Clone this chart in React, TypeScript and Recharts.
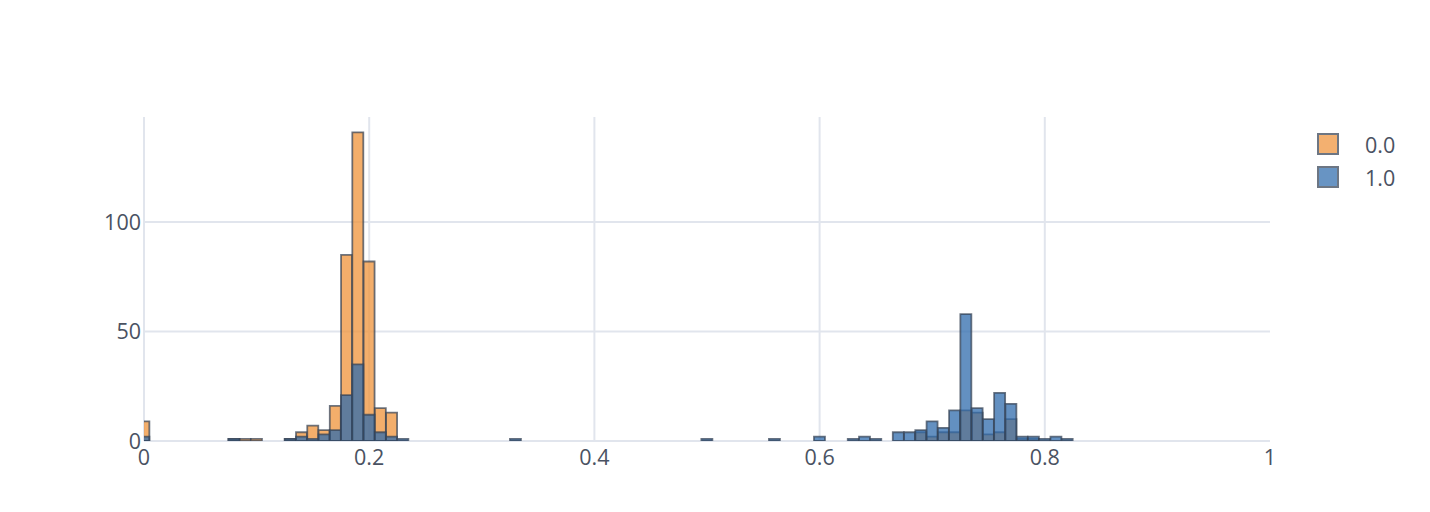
import React from 'react';
import { BarChart, Bar, XAxis, YAxis, CartesianGrid, Legend } from 'recharts';

// Histogram bin centres (bin width 0.01)
const binCenters: number[] = [
  0, 0.01, 0.02, 0.03, 0.04, 0.05, 0.06, 0.07, 0.08, 0.09,
  0.1, 0.11, 0.12, 0.13, 0.14, 0.15, 0.16, 0.17, 0.18, 0.19,
  0.2, 0.21, 0.22, 0.23, 0.24, 0.25, 0.26, 0.27, 0.28, 0.29,
  0.3, 0.31, 0.32, 0.33, 0.34, 0.35, 0.36, 0.37, 0.38, 0.39,
  0.4, 0.41, 0.42, 0.43, 0.44, 0.45, 0.46, 0.47, 0.48, 0.49,
  0.5, 0.51, 0.52, 0.53, 0.54, 0.55, 0.56, 0.57, 0.58, 0.59,
  0.6, 0.61, 0.62, 0.63, 0.64, 0.65, 0.66, 0.67, 0.68, 0.69,
  0.7, 0.71, 0.72, 0.73, 0.74, 0.75, 0.76, 0.77, 0.78, 0.79,
  0.8, 0.81, 0.82,
];

// Series "0.0" counts
const counts0: number[] = [
  9, 0, 0, 0, 0, 0, 0, 0, 1, 1,
  1, 0, 0, 1, 4, 7, 5, 16, 85, 141,
  82, 15, 13, 0, 0, 0, 0, 0, 0, 0,
  0, 0, 0, 0, 0, 0, 0, 0, 0, 0,
  0, 0, 0, 0, 0, 0, 0, 0, 0, 0,
  0, 0, 0, 0, 0, 0, 0, 0, 0, 0,
  0, 0, 0, 0, 0, 0, 0, 0, 0, 4,
  2, 4, 4, 14, 13, 3, 4, 10, 1, 1,
  0, 0, 0,
];

// Series "1.0" counts
const counts1: number[] = [
  2, 0, 0, 0, 0, 0, 0, 0, 1, 0,
  0, 0, 0, 1, 2, 1, 3, 5, 21, 35,
  12, 4, 2, 1, 0, 0, 0, 0, 0, 0,
  0, 0, 0, 1, 0, 0, 0, 0, 0, 0,
  0, 0, 0, 0, 0, 0, 0, 0, 0, 0,
  1, 0, 0, 0, 0, 0, 1, 0, 0, 0,
  2, 0, 0, 1, 2, 1, 0, 4, 4, 5,
  9, 6, 14, 58, 15, 10, 22, 17, 2, 2,
  1, 2, 1,
];

const seriesNames: string[] = ['0.0', '1.0'];
const xTicks: number[] = [0, 0.2, 0.4, 0.6, 0.8, 1];
const yTicks: number[] = [0, 50, 100];
const xGridValues: number[] = [0, 0.2, 0.4, 0.6, 0.8];

const ORANGE = '#EF933A';
const BLUE = '#2F6BAC';
const OUTLINE = '#364254';
const TEXT = '#4a5262';
const GRID = '#E1E5ED';
const FONT = '"Open Sans", sans-serif';
const FS = 21.5;

const data = binCenters.map((x, i) => ({ x, a: counts0[i], b: counts1[i] }));

const renderLegend = (props: any) => {
  const payload = (props.payload || []).slice().sort((p: any, q: any) =>
    String(p.value).localeCompare(String(q.value))
  );
  return (
    <div style={{ fontFamily: FONT, fontSize: FS, color: TEXT }}>
      {payload.map((entry: any) => (
        <div key={entry.value} style={{ display: 'flex', alignItems: 'center', height: 33 }}>
          <div
            style={{
              width: 18,
              height: 18,
              marginLeft: 7,
              backgroundColor: entry.color,
              border: `2px solid ${OUTLINE}`,
              opacity: 0.72,
              boxSizing: 'content-box',
            }}
          />
          <span style={{ marginLeft: 26, lineHeight: '33px' }}>{entry.value}</span>
        </div>
      ))}
    </div>
  );
};

export default function App() {
  return (
    <div style={{ position: 'absolute', left: 0, top: 0, width: 1430, height: 512, background: '#fff' }}>
      <BarChart
        width={1430}
        height={512}
        data={data}
        margin={{ top: 117, right: 160, bottom: 41, left: 84 }}
        barCategoryGap={0}
        barGap={0}
      >
        <CartesianGrid
          xAxisId="a"
          stroke={GRID}
          strokeWidth={2}
          horizontalValues={yTicks}
          verticalValues={xGridValues}
        />
        <XAxis
          xAxisId="a"
          dataKey="x"
          type="number"
          domain={[0, 1]}
          ticks={xTicks}
          interval={0}
          allowDataOverflow
          axisLine={false}
          tickLine={false}
          tickSize={0}
          tickMargin={9}
          height={30}
          tick={{ fontSize: FS, fill: TEXT, fontFamily: FONT }}
        />
        <XAxis xAxisId="b" dataKey="x" type="number" domain={[0, 1]} allowDataOverflow hide />
        <YAxis
          domain={[0, 148]}
          ticks={yTicks}
          allowDataOverflow
          axisLine={false}
          tickLine={false}
          tickSize={0}
          tickMargin={3}
          width={60}
          tick={{ fontSize: FS, fill: TEXT, fontFamily: FONT }}
        />
        <Legend
          layout="vertical"
          align="center"
          verticalAlign="middle"
          content={renderLegend}
          wrapperStyle={{ left: 1310, top: 127.5, width: 120, height: 70 }}
        />
        <Bar
          xAxisId="a"
          dataKey="a"
          name={seriesNames[0]}
          fill={ORANGE}
          fillOpacity={0.75}
          stroke={OUTLINE}
          strokeOpacity={0.72}
          strokeWidth={1.8}
          isAnimationActive={false}
        />
        <Bar
          xAxisId="b"
          dataKey="b"
          name={seriesNames[1]}
          fill={BLUE}
          fillOpacity={0.75}
          stroke={OUTLINE}
          strokeOpacity={0.72}
          strokeWidth={1.8}
          isAnimationActive={false}
        />
      </BarChart>
    </div>
  );
}
